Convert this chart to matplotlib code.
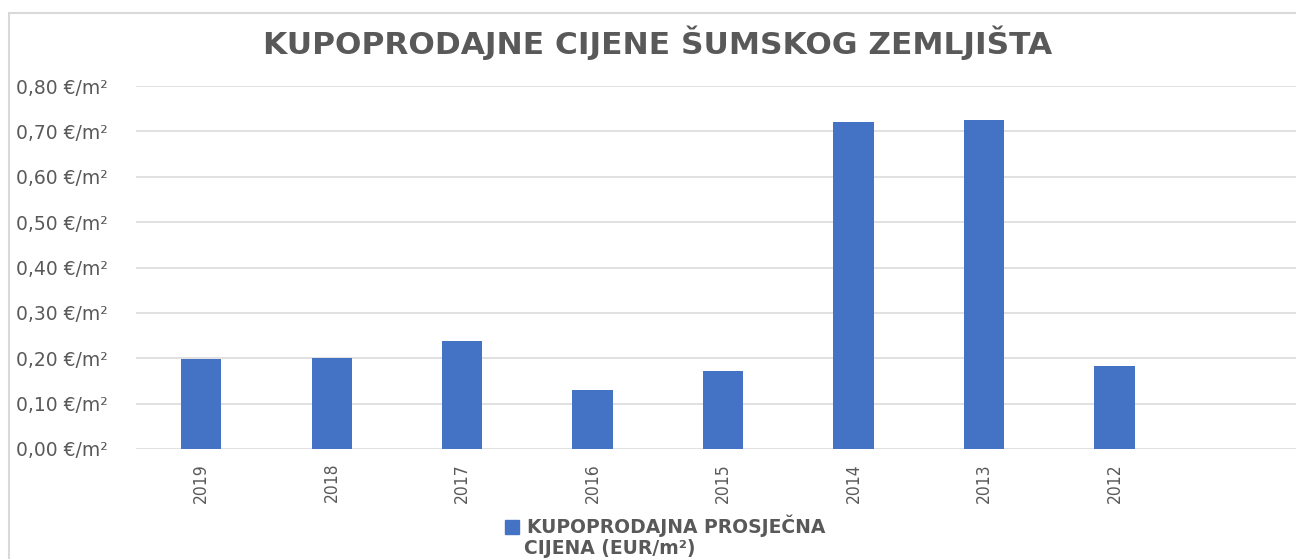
import matplotlib.pyplot as plt
from matplotlib.patches import Rectangle, Patch
from matplotlib.ticker import FuncFormatter

# data
godine = ['2019', '2018', '2017', '2016', '2015', '2014', '2013', '2012']
cijene = [0.198, 0.200, 0.239, 0.129, 0.172, 0.721, 0.725, 0.184]
yticks = [0.0, 0.1, 0.2, 0.3, 0.4, 0.5, 0.6, 0.7, 0.8]

plt.rcParams['font.family'] = ['DejaVu Sans']
siva = '#595959'

fig = plt.figure(figsize=(12.96, 5.59), dpi=100)
ax = fig.add_axes([136 / 1296, 1 - 449 / 559, 1 - 136 / 1296, (449 - 86) / 559])

ax.bar(range(len(godine)), cijene, width=0.31, color='#4472C4', zorder=3)

ax.set_ylim(0, 0.8)
ax.set_xlim(-0.5, 8.39)
ax.set_yticks(yticks)
ax.yaxis.set_major_formatter(FuncFormatter(lambda v, p: ('%.2f' % v).replace('.', ',') + ' €/m²'))
ax.grid(axis='y', color='#d9d9d9', linewidth=1.1, zorder=0)
ax.set_xticks(range(len(godine)))
ax.set_xticklabels(godine, rotation=90, fontsize=12.5, color=siva, fontstretch='condensed')
ax.tick_params(axis='y', labelsize=13.5, colors=siva, length=0, pad=20)
ax.tick_params(axis='x', length=0, pad=10)
for s in ax.spines.values():
    s.set_visible(False)

fig.text(0.507, 1 - 43 / 559, 'KUPOPRODAJNE CIJENE ŠUMSKOG ZEMLJIŠTA', ha='center', va='center',
         fontsize=22.5, fontweight='bold', color=siva)

# chart border
fig.patches.append(Rectangle((9 / 1296, -0.05), 1.2, 1 - 13 / 559 + 0.05, transform=fig.transFigure,
                             fill=False, edgecolor='#d9d9d9', linewidth=1.5))

leg = fig.legend(handles=[Patch(color='#4472C4', label='KUPOPRODAJNA PROSJEČNA')],
                 loc='center left', bbox_to_anchor=(488 / 1296, 1 - 526 / 559), frameon=False,
                 handlelength=0.75, handleheight=0.75, handletextpad=0.45,
                 prop={'size': 13.5, 'weight': 'bold'})
for t in leg.get_texts():
    t.set_color(siva)
fig.text(524 / 1296, 1 - 549 / 559, 'CIJENA (EUR/m²)', ha='left', va='center',
         fontsize=13.5, fontweight='bold', color=siva)

fig.savefig('out.png', dpi=100)
